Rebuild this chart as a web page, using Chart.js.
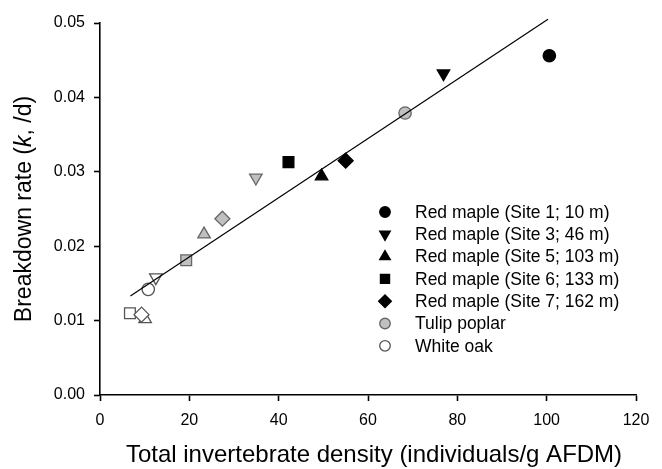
<!DOCTYPE html>
<html>
<head>
<meta charset="utf-8">
<script src="https://cdn.jsdelivr.net/npm/chart.js@4.4.1/dist/chart.umd.min.js"></script>
<style>
  html, body { margin: 0; padding: 0; background: #fff; }
  #wrap { width: 662px; height: 469px; position: relative; }
</style>
</head>
<body>
<div id="wrap"><canvas id="chart"></canvas></div>
<script>
// Site order: 1, 3, 5, 6, 7
const siteLabels = ['Red maple (Site 1; 10 m)', 'Red maple (Site 3; 46 m)', 'Red maple (Site 5; 103 m)',
    'Red maple (Site 6; 133 m)', 'Red maple (Site 7; 162 m)'];
const speciesLabels = ['Tulip poplar', 'White oak'];

const redMapleX = [100.6, 76.9, 49.6, 42.2, 55.0];
const redMapleY = [0.0456, 0.0432, 0.0294, 0.0313, 0.0315];
const tulipX = [68.3, 34.9, 23.3, 19.3, 27.4];
const tulipY = [0.0379, 0.0292, 0.0216, 0.0181, 0.0237];
const oakX = [10.8, 12.5, 10.1, 6.7, 9.3];
const oakY = [0.0142, 0.0158, 0.0102, 0.0110, 0.0108];

// regression line end points
const fitX = [6.8, 100.3];
const fitY = [0.0133, 0.0505];

const xTicks = [0, 20, 40, 60, 80, 100, 120];
const yTicks = [0, 0.01, 0.02, 0.03, 0.04, 0.05];

const shapes = ['circle', 'triangle', 'triangle', 'rect', 'rectRot'];
const rotations = [0, 180, 0, 0, 0];
const radii = [6.2, 7.2, 7.2, 7.6, 7.5];

const FONT = '"Liberation Sans", Arial, sans-serif';
const toPts = (xs, ys) => xs.map((x, i) => ({ x: x, y: ys[i] }));

function species(label, xs, ys, fill, stroke) {
    return {
        type: 'scatter',
        label: label,
        data: toPts(xs, ys),
        pointStyle: shapes,
        pointRotation: rotations,
        pointRadius: radii,
        pointBackgroundColor: fill,
        pointBorderColor: stroke,
        pointBorderWidth: 1.3
    };
}

const legendItems = [
    { text: siteLabels[0], style: 0, fill: '#000', stroke: '#000' },
    { text: siteLabels[1], style: 1, fill: '#000', stroke: '#000' },
    { text: siteLabels[2], style: 2, fill: '#000', stroke: '#000' },
    { text: siteLabels[3], style: 3, fill: '#000', stroke: '#000' },
    { text: siteLabels[4], style: 4, fill: '#000', stroke: '#000' },
    { text: speciesLabels[0], style: 0, fill: '#c0c0c0', stroke: '#666' },
    { text: speciesLabels[1], style: 0, fill: '#fff', stroke: '#555' }
];

const extras = {
    id: 'extras',
    afterDraw(chart) {
        const ctx = chart.ctx;
        const area = chart.chartArea;
        ctx.save();
        // legend
        ctx.font = '17.5px ' + FONT;
        ctx.textBaseline = 'middle';
        ctx.textAlign = 'left';
        legendItems.forEach((it, i) => {
            const y = 212 + i * 22.3;
            ctx.fillStyle = it.fill;
            ctx.strokeStyle = it.stroke;
            ctx.lineWidth = 1.3;
            Chart.helpers.drawPoint(ctx, {
                pointStyle: shapes[it.style],
                rotation: rotations[it.style],
                radius: radii[it.style] * 0.85,
                borderWidth: 1.3
            }, 385, y);
            ctx.fillStyle = '#000';
            ctx.fillText(it.text, 415, y + 1);
        });

        // x axis title
        ctx.font = '24px ' + FONT;
        ctx.textAlign = 'center';
        ctx.textBaseline = 'alphabetic';
        ctx.fillStyle = '#000';
        ctx.fillText('Total invertebrate density (individuals/g AFDM)', (area.left + area.right) / 2 + 6, 462);

        // y axis title with italic k
        ctx.translate(25, (area.top + area.bottom) / 2);
        ctx.rotate(-Math.PI / 2);
        ctx.textBaseline = 'middle';
        const parts = [['Breakdown rate (', ''], ['k', 'italic '], [', /d)', '']];
        let total = 0;
        parts.forEach(p => { ctx.font = p[1] + '23px ' + FONT; total += ctx.measureText(p[0]).width; });
        let x = -total / 2;
        ctx.textAlign = 'left';
        parts.forEach(p => {
            ctx.font = p[1] + '23px ' + FONT;
            ctx.fillText(p[0], x, 0);
            x += ctx.measureText(p[0]).width;
        });
        ctx.restore();
    }
};

new Chart(document.getElementById('chart'), {
    data: {
        datasets: [
            {
                type: 'line',
                label: 'fit',
                data: toPts(fitX, fitY),
                borderColor: '#000',
                borderWidth: 1.2,
                pointRadius: 0,
                fill: false,
                clip: false
            },
            species('Red maple', redMapleX, redMapleY, '#000', '#000'),
            species(speciesLabels[0], tulipX, tulipY, '#c0c0c0', '#666'),
            species(speciesLabels[1], oakX, oakY, '#fff', '#555')
        ]
    },
    options: {
        responsive: true,
        maintainAspectRatio: false,
        animation: false,
        layout: { padding: { top: 23, right: 26, left: 0, bottom: 0 } },
        plugins: {
            legend: { display: false },
            tooltip: { enabled: false }
        },
        scales: {
            x: {
                type: 'linear',
                min: 0,
                max: 120,
                afterFit: (s) => { s.height = 74; },
                afterBuildTicks: (s) => { s.ticks = xTicks.map(v => ({ value: v })); },
                border: { display: true, color: '#000', width: 1.6 },
                grid: { drawOnChartArea: false, drawTicks: true, tickLength: 6, color: '#000', tickWidth: 1.6 },
                ticks: { color: '#000', padding: 10, font: { family: FONT, size: 16 }, maxRotation: 0 }
            },
            y: {
                type: 'linear',
                min: 0,
                max: 0.05,
                afterFit: (s) => { s.width = 100; },
                afterBuildTicks: (s) => { s.ticks = yTicks.map(v => ({ value: v })); },
                border: { display: true, color: '#000', width: 1.6 },
                grid: { drawOnChartArea: false, drawTicks: true, tickLength: 6, color: '#000', tickWidth: 1.6 },
                ticks: {
                    color: '#000', padding: 9, font: { family: FONT, size: 16 },
                    callback: (v) => Number(v).toFixed(2)
                }
            }
        }
    },
    plugins: [extras]
});
</script>
</body>
</html>
